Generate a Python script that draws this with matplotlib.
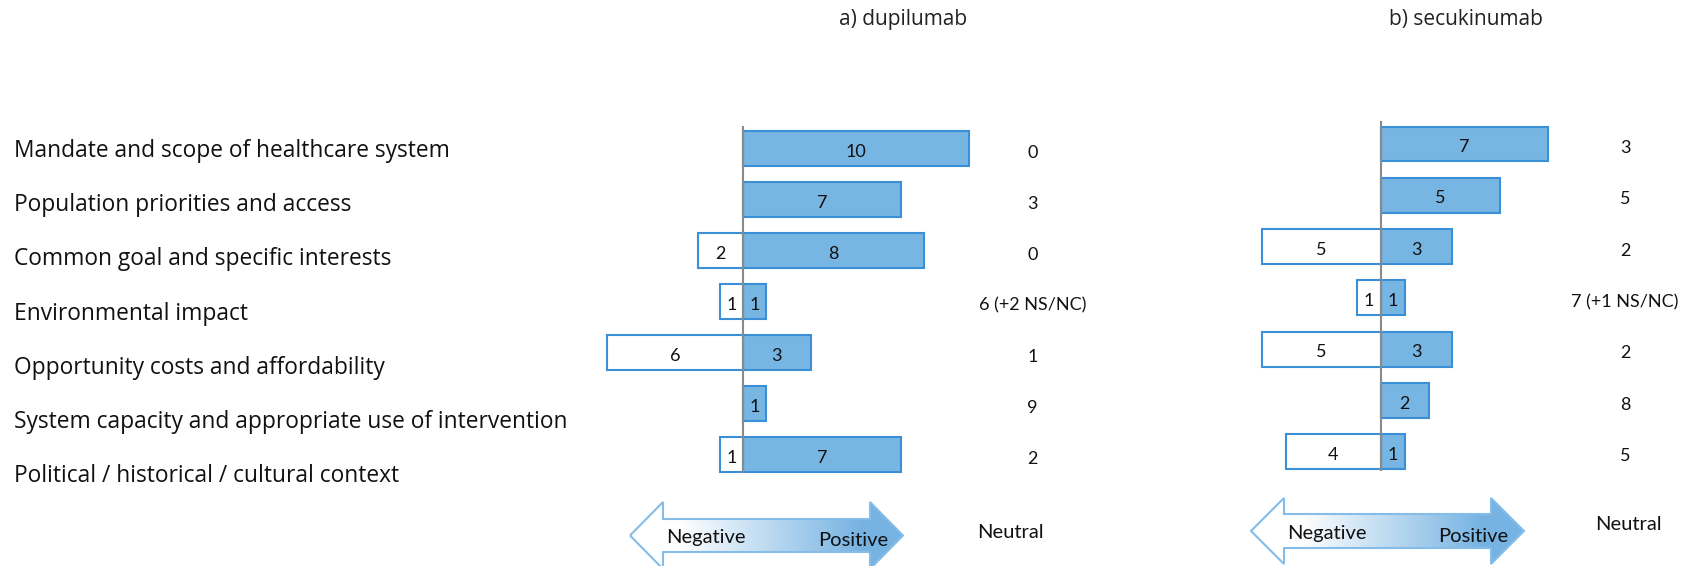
import numpy as np
import matplotlib
matplotlib.use("Agg")
import matplotlib.pyplot as plt
from matplotlib.patches import Polygon
from matplotlib.colors import LinearSegmentedColormap

plt.rcParams['font.family'] = ['Lato', 'DejaVu Sans']

# ---------------------------------------------------------------------
# Data
# ---------------------------------------------------------------------
categories = [
    "Mandate and scope of healthcare system",
    "Population priorities and access",
    "Common goal and specific interests",
    "Environmental impact",
    "Opportunity costs and affordability",
    "System capacity and appropriate use of intervention",
    "Political / historical / cultural context",
]

dupi_pos = [10, 7, 8, 1, 3, 1, 7]
dupi_neg = [0, 0, 2, 1, 6, 0, 1]
dupi_neutral = ["0", "3", "0", "6 (+2 NS/NC)", "1", "9", "2"]

secu_pos = [7, 5, 3, 1, 3, 2, 1]
secu_neg = [0, 0, 5, 1, 5, 0, 4]
secu_neutral = ["3", "5", "2", "7 (+1 NS/NC)", "2", "8", "5"]

titles = ["a) dupilumab", "b) secukinumab"]

W, H = 1697, 566
BLUE = "#77b5e3"
EDGE = "#3a8fd6"

fig = plt.figure(figsize=(W / 100, H / 100), dpi=100)


def px_axes(x0, y0, x1, y1):
    # axes placed by pixel box (top-left origin)
    return fig.add_axes([x0 / W, 1 - y1 / H, (x1 - x0) / W, (y1 - y0) / H])


def panel(box, zero_px, unit_px, row0_px, row_px, pos, neg, neutral, neutral_x):
    x0, y0, x1, y1 = box
    ax = px_axes(x0, y0, x1, y1)
    ax.set_xlim((x0 - zero_px) / unit_px, (x1 - zero_px) / unit_px)
    ax.set_ylim((y1 - row0_px) / row_px, (y0 - row0_px) / row_px)
    ax.axis("off")
    y = np.arange(len(pos))
    h = 0.68
    ax.barh(y, pos, height=h, color=BLUE, edgecolor=EDGE, linewidth=1.5, zorder=2)
    neg_arr = np.array(neg)
    ax.barh(y, -neg_arr, height=h, color="white", edgecolor=EDGE, linewidth=1.5, zorder=2)
    ax.vlines(0, -0.45, len(pos) - 0.63, color="#8a8a8a", linewidth=1.5, zorder=3)
    for i in range(len(pos)):
        if pos[i] > 0:
            ax.text(pos[i] / 2, i + 0.06, str(pos[i]), ha="center", va="center",
                    fontsize=13, color="#111111", zorder=4)
        if neg[i] > 0:
            ax.text(-neg[i] / 2, i + 0.06, str(neg[i]), ha="center", va="center",
                    fontsize=13, color="#111111", zorder=4)
        ax.text(neutral_x, i + 0.08, neutral[i], ha="center", va="center",
                fontsize=13, color="#111111")
    return ax


panel((540, 100, 1110, 480), 743, 22.6, 148.5, 51.0,
      dupi_pos, dupi_neg, dupi_neutral, 12.8)
panel((1140, 100, 1697, 480), 1381, 23.8, 144.0, 51.3,
      secu_pos, secu_neg, secu_neutral, 10.25)

# overlay in pixel coordinates for text and the arrows
ov = fig.add_axes([0, 0, 1, 1])
ov.set_xlim(0, W)
ov.set_ylim(H, 0)
ov.axis("off")
ov.patch.set_alpha(0)

for i, cat in enumerate(categories):
    ov.text(14, 151 + 54.2 * i, cat, ha="left", va="center", fontsize=16.4,
            family=["Open Sans", "DejaVu Sans"], color="#111111")

ov.text(903, 20, titles[0], ha="center", va="center", fontsize=15,
        family=["Open Sans", "DejaVu Sans"], color="#222222")
ov.text(1466, 20, titles[1], ha="center", va="center", fontsize=15,
        family=["Open Sans", "DejaVu Sans"], color="#222222")

cmap = LinearSegmentedColormap.from_list(
    "arr", [(0, "white"), (0.18, "white"), (0.85, "#76b3e2"), (1, "#76b3e2")])


def double_arrow(xl, xr, yc, head_w, shaft_half, head_half):
    pts = [
        (xl, yc), (xl + head_w, yc - head_half), (xl + head_w, yc - shaft_half),
        (xr - head_w, yc - shaft_half), (xr - head_w, yc - head_half), (xr, yc),
        (xr - head_w, yc + head_half), (xr - head_w, yc + shaft_half),
        (xl + head_w, yc + shaft_half), (xl + head_w, yc + head_half),
    ]
    poly = Polygon(pts, closed=True, facecolor="none", edgecolor="#85bde8",
                   linewidth=1.5, zorder=3)
    ov.add_patch(poly)
    grad = np.linspace(0, 1, 256).reshape(1, -1)
    im = ov.imshow(grad, cmap=cmap, aspect="auto", zorder=2,
                   extent=(xl, xr, yc + head_half, yc - head_half))
    im.set_clip_path(poly)


double_arrow(630, 903, 535.5, 33, 16.5, 33.5)
double_arrow(1251, 1524, 531, 33, 17, 33)
ov.set_xlim(0, W)
ov.set_ylim(H, 0)

for x, y, s in [(706, 538, "Negative"), (853, 540, "Positive"), (1010, 533, "Neutral"),
                (1327, 533, "Negative"), (1473, 536, "Positive"), (1628, 524, "Neutral")]:
    ov.text(x, y, s, ha="center", va="center", fontsize=14.5, color="#111111", zorder=4)

fig.savefig("out.png", dpi=100)
